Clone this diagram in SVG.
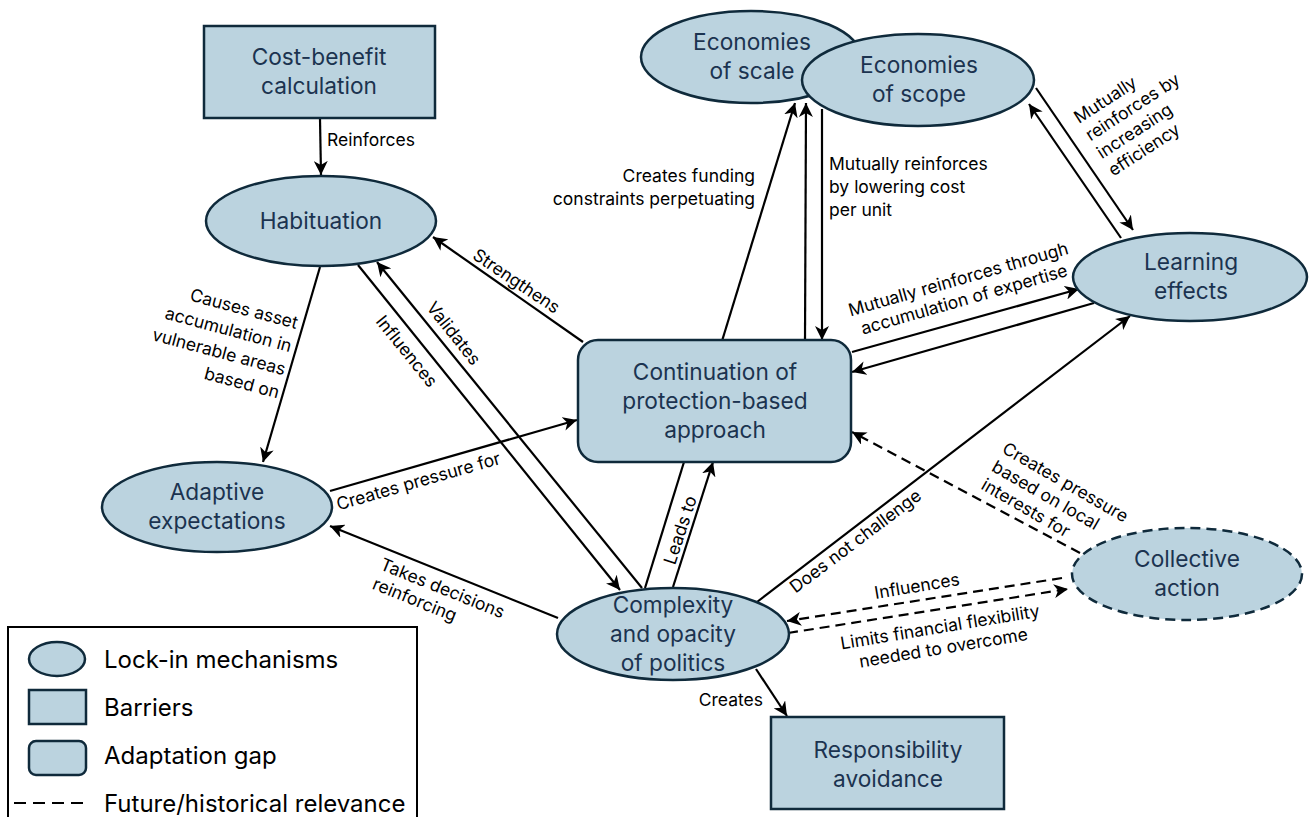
<svg xmlns="http://www.w3.org/2000/svg" width="1309" height="817" viewBox="0 0 1309 817">
<defs>
<marker id="ah" markerUnits="userSpaceOnUse" markerWidth="16" markerHeight="14" viewBox="0 0 16 14" refX="14" refY="7" orient="auto">
<path d="M0,0 L14,7 L0,14 L4,7 z" fill="#000"/>
</marker>
<style>
.n{fill:#bbd3df;stroke:#0f2a3b;stroke-width:2.5}
.nd{fill:#bbd3df;stroke:#0f2a3b;stroke-width:2.5;stroke-dasharray:10 6}
.t{font-family:Inter,"Open Sans",sans-serif;font-size:22.7px;fill:#1b3350;text-anchor:middle}
.c{stroke:#000;stroke-width:2.2;fill:none}
.a{marker-end:url(#ah)}
.d{stroke-dasharray:10 6}
.l{font-family:Inter,"Open Sans",sans-serif;font-size:17.5px;fill:#000}
.lg{font-family:Inter,"Open Sans",sans-serif;font-size:24px;fill:#000}
</style>
</defs>
<rect width="1309" height="817" fill="#fff"/>

<g id="connectors">
<line class="c a" x1="320" y1="119" x2="321" y2="175"/>
<line class="c a" x1="320" y1="267" x2="263" y2="462"/>
<line class="c a" x1="583" y1="342" x2="433" y2="237"/>
<line class="c a" x1="358" y1="265" x2="620" y2="590"/>
<line class="c a" x1="642" y1="588" x2="377" y2="262"/>
<line class="c a" x1="330" y1="491" x2="577" y2="420"/>
<line class="c a" x1="558" y1="618" x2="330" y2="526"/>
<line class="c a" x1="722" y1="341" x2="795" y2="103"/>
<line class="c a" x1="805" y1="341" x2="806" y2="103"/>
<line class="c a" x1="822" y1="109" x2="822" y2="340"/>
<line class="c a" x1="1036" y1="88" x2="1133" y2="230"/>
<line class="c a" x1="1121" y1="238" x2="1029" y2="104"/>
<line class="c a" x1="852" y1="352" x2="1079" y2="289"/>
<line class="c a" x1="1094" y1="303" x2="852" y2="372"/>
<line class="c a" x1="757" y1="602" x2="1130" y2="316"/>
<line class="c a d" x1="1080" y1="553" x2="852" y2="432"/>
<line class="c a d" x1="1062" y1="578" x2="787" y2="621"/>
<line class="c a d" x1="788" y1="633" x2="1068" y2="589"/>
<line class="c a" x1="756" y1="669" x2="787" y2="716"/>
<line class="c" x1="645" y1="588" x2="684" y2="462"/>
<line class="c a" x1="673" y1="587" x2="713" y2="462"/>
</g>

<g id="labels">
<text class="l" x="327" y="146">Reinforces</text>
<text class="l" text-anchor="end" transform="translate(296,329) rotate(15)"><tspan x="0" y="0">Causes asset</tspan><tspan x="0" y="24">accumulation in</tspan><tspan x="0" y="48">vulnerable areas</tspan><tspan x="0" y="72">based on</tspan></text>
<text class="l" text-anchor="middle" transform="translate(513,286) rotate(34)">Strengthens</text>
<text class="l" text-anchor="middle" transform="translate(449,337) rotate(51.5)">Validates</text>
<text class="l" text-anchor="middle" transform="translate(402,355) rotate(51)">Influences</text>
<text class="l" text-anchor="middle" transform="translate(420,487) rotate(-16)">Creates pressure for</text>
<text class="l" transform="translate(379,569) rotate(22)"><tspan x="0" y="0">Takes decisions</tspan><tspan x="0" y="21">reinforcing</tspan></text>
<text class="l" text-anchor="end"><tspan x="755" y="182">Creates funding</tspan><tspan x="755" y="205">constraints perpetuating</tspan></text>
<text class="l"><tspan x="829" y="170">Mutually reinforces</tspan><tspan x="829" y="193">by lowering cost</tspan><tspan x="829" y="216">per unit</tspan></text>
<text class="l" transform="translate(1079,124) rotate(-33)"><tspan x="0" y="0">Mutually</tspan><tspan x="0" y="21">reinforces by</tspan><tspan x="0" y="42">increasing</tspan><tspan x="0" y="63">efficiency</tspan></text>
<text class="l" text-anchor="middle" transform="translate(960,285) rotate(-16)"><tspan x="0" y="0">Mutually reinforces through</tspan><tspan x="0" y="21">accumulation of expertise</tspan></text>
<text class="l" text-anchor="middle" transform="translate(859,546) rotate(-37)">Does not challenge</text>
<text class="l" transform="translate(1001,452) rotate(30)"><tspan x="0" y="0">Creates pressure</tspan><tspan x="0" y="21">based on local</tspan><tspan x="0" y="42">interests for</tspan></text>
<text class="l" text-anchor="middle" transform="translate(918,592) rotate(-9.5)">Influences</text>
<text class="l" text-anchor="middle" transform="translate(941,633) rotate(-9.4)"><tspan x="0" y="0">Limits financial flexibility</tspan><tspan x="0" y="21">needed to overcome</tspan></text>
<text class="l" text-anchor="end" x="763" y="706">Creates</text>
<text class="l" text-anchor="middle" transform="translate(686,532) rotate(-72)">Leads to</text>
</g>

<g id="cost-benefit"><rect class="n" x="204" y="26" width="231" height="92"/><text class="t"><tspan x="319" y="65">Cost-benefit</tspan><tspan x="319" y="94">calculation</tspan></text></g>
<g id="habituation"><ellipse class="n" cx="321" cy="221" rx="115" ry="45"/><text class="t" x="321" y="229">Habituation</text></g>
<g id="adaptive-expectations"><ellipse class="n" cx="217" cy="507" rx="115" ry="45"/><text class="t"><tspan x="217" y="500">Adaptive</tspan><tspan x="217" y="529">expectations</tspan></text></g>
<g id="economies-of-scale"><ellipse class="n" cx="751" cy="57" rx="110" ry="46"/><text class="t"><tspan x="752" y="50">Economies</tspan><tspan x="752" y="79">of scale</tspan></text></g>
<g id="economies-of-scope"><ellipse class="n" cx="918" cy="80" rx="116" ry="46"/><text class="t"><tspan x="919" y="73">Economies</tspan><tspan x="919" y="102">of scope</tspan></text></g>
<g id="learning-effects"><ellipse class="n" cx="1190" cy="277" rx="117" ry="44"/><text class="t"><tspan x="1191" y="270">Learning</tspan><tspan x="1191" y="299">effects</tspan></text></g>
<g id="continuation"><rect class="n" x="578" y="340" width="273" height="122" rx="20"/><text class="t"><tspan x="715" y="380">Continuation of</tspan><tspan x="715" y="409">protection-based</tspan><tspan x="715" y="438">approach</tspan></text></g>
<g id="complexity"><ellipse class="n" cx="673" cy="634" rx="116" ry="46"/><text class="t"><tspan x="673" y="613">Complexity</tspan><tspan x="673" y="642">and opacity</tspan><tspan x="673" y="671">of politics</tspan></text></g>
<g id="collective-action"><ellipse class="nd" cx="1187" cy="574" rx="115" ry="46"/><text class="t"><tspan x="1187" y="567">Collective</tspan><tspan x="1187" y="596">action</tspan></text></g>
<g id="responsibility-avoidance"><rect class="n" x="771" y="717" width="233" height="92"/><text class="t"><tspan x="888" y="758">Responsibility</tspan><tspan x="888" y="787">avoidance</tspan></text></g>

<g id="legend">
<rect x="8" y="627" width="409" height="200" fill="#fff" stroke="#000" stroke-width="2"/>
<ellipse class="n" cx="57" cy="659" rx="28" ry="17"/>
<rect class="n" x="29" y="690" width="57" height="34"/>
<rect class="n" x="29" y="741" width="57" height="34" rx="7"/>
<line class="c" x1="14" y1="803" x2="90" y2="803" stroke-dasharray="12 7"/>
<text class="lg" x="104" y="668">Lock-in mechanisms</text>
<text class="lg" x="104" y="716">Barriers</text>
<text class="lg" x="104" y="764">Adaptation gap</text>
<text class="lg" x="104" y="812">Future/historical relevance</text>
</g>
</svg>
